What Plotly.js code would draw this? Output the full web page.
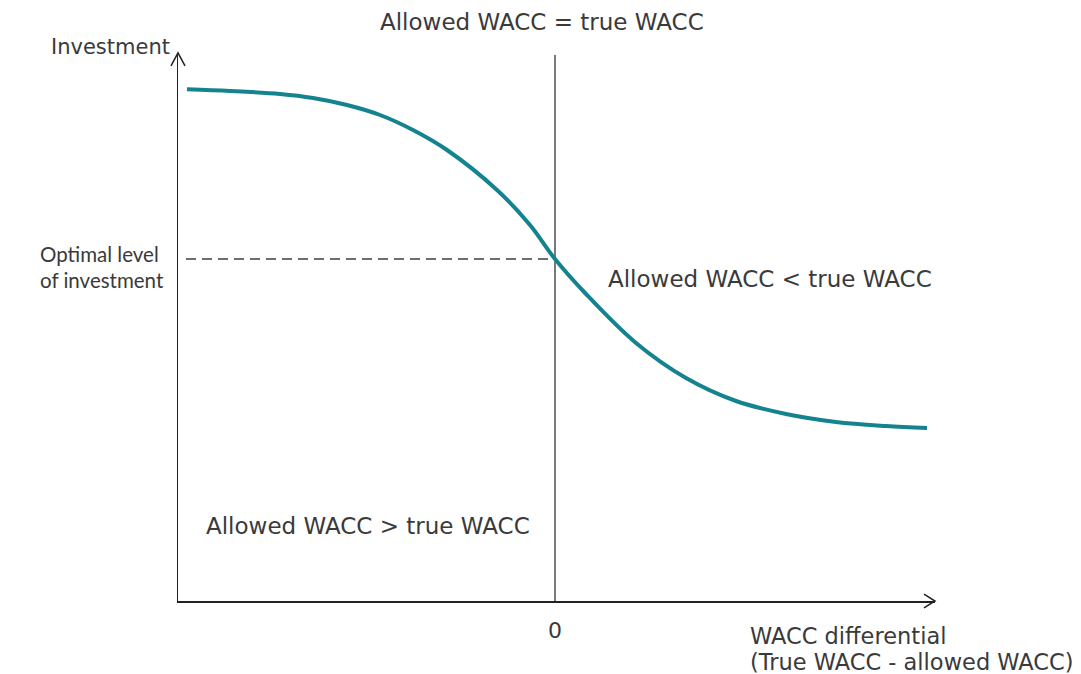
<!DOCTYPE html>
<html><head><meta charset="utf-8">
<script src="https://cdn.plot.ly/plotly-3.0.1.min.js"></script>
<style>html,body{margin:0;padding:0;background:#fff}</style>
</head><body>
<div id="chart" style="width:1081px;height:674px"></div>
<script>
// WACC differential (arbitrary units, 0 = allowed WACC equals true WACC)
const waccDiff = [-368, -325, -275, -242, -208, -175, -142, -108, -58, -25, 0, 31, 81, 131, 181, 231, 281, 331, 372];
// Investment level (arbitrary units)
const investment = [511.7, 510, 507, 503, 496, 486, 471, 451, 411, 376, 342, 307, 258, 223, 200, 187, 179, 175, 173];
const optimalLevel = 342;
const zeroDiff = 0;
const dashStart = -369;
const xTickVals = [0];
const xTickText = ['0'];

const FONT = '"DejaVu Sans", sans-serif';
const FONT2 = 'Lato, "DejaVu Sans", sans-serif';
const TXT = '#3a3a3a';

const traces = [
  { x: [zeroDiff, zeroDiff], y: [0, 549], mode: 'lines', line: {color: '#7a7a7a', width: 2}, hoverinfo: 'skip', cliponaxis: false },
  { x: [dashStart, zeroDiff], y: [optimalLevel, optimalLevel], mode: 'lines', line: {color: '#6e6e6e', width: 2, dash: '10px,6px'}, hoverinfo: 'skip' },
  { x: waccDiff, y: investment, mode: 'lines', line: {color: '#13848f', width: 4, shape: 'spline', smoothing: 1}, hoverinfo: 'skip' }
];

const layout = {
  width: 1081, height: 674,
  margin: {l: 178, r: 146, t: 55, b: 73},
  paper_bgcolor: '#fff', plot_bgcolor: '#fff',
  showlegend: false,
  font: {family: FONT, color: TXT, size: 20},
  xaxis: {range: [-377, 380], showgrid: false, zeroline: false, showline: true, linecolor: '#222', linewidth: 1.5,
          tickvals: xTickVals, ticktext: xTickText, ticks: '', ticklabelstandoff: 9,
          tickfont: {family: FONT, size: 22, color: TXT}, fixedrange: true},
  yaxis: {range: [0, 546], showgrid: false, zeroline: false, showline: true, linecolor: '#222', linewidth: 1.5,
          showticklabels: false, ticks: '', fixedrange: true},
  shapes: [
    {type: 'path', xref: 'paper', yref: 'paper', path: 'M 0.9855 0.0128 L 1 0 L 0.9855 -0.0128', line: {color: '#222', width: 1.5}},
    {type: 'path', xref: 'paper', yref: 'paper', path: 'M -0.00925 0.9799 L 0 1.004 L 0.00925 0.9799', line: {color: '#222', width: 1.5}}
  ],
  annotations: [
    {text: 'Allowed WACC = true WACC', font: {size: 23}, xref: 'x', yref: 'paper', x: -13, y: 1.0, yshift: 33, showarrow: false, xanchor: 'center', yanchor: 'middle'},
    {text: 'Investment', font: {size: 21}, xref: 'paper', yref: 'paper', x: -0.008, y: 1.0, yshift: 8, showarrow: false, xanchor: 'right', yanchor: 'middle'},
    {text: 'Optimal level', font: {family: FONT2, size: 20.5}, xref: 'paper', yref: 'paper', x: -0.1849, y: 0.6355, showarrow: false, xanchor: 'left', yanchor: 'middle'},
    {text: 'of investment', font: {family: FONT2, size: 20.5}, xref: 'paper', yref: 'paper', x: -0.1849, y: 0.5879, showarrow: false, xanchor: 'left', yanchor: 'middle'},
    {text: 'Allowed WACC &lt; true WACC', font: {size: 23}, xref: 'x', yref: 'y', x: 215, y: 322, showarrow: false, xanchor: 'center', yanchor: 'middle'},
    {text: 'Allowed WACC &gt; true WACC', font: {size: 23}, xref: 'x', yref: 'y', x: -187, y: 75, showarrow: false, xanchor: 'center', yanchor: 'middle'},
    {text: 'WACC differential', font: {size: 22.5}, xref: 'paper', yref: 'paper', x: 0.753, y: -0.0641, showarrow: false, xanchor: 'left', yanchor: 'middle'},
    {text: '(True WACC - allowed WACC)', font: {size: 22.5}, xref: 'paper', yref: 'paper', x: 0.753, y: -0.1117, showarrow: false, xanchor: 'left', yanchor: 'middle'}
  ]
};

Plotly.newPlot('chart', traces, layout, {displayModeBar: false, staticPlot: true});
</script>
</body></html>
